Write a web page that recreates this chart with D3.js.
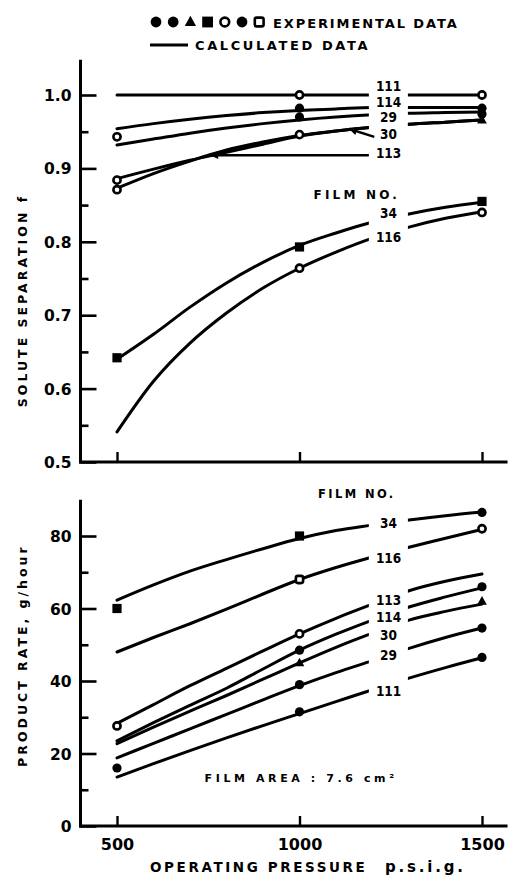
<!DOCTYPE html>
<html>
<head>
<meta charset="utf-8">
<script src="https://cdn.jsdelivr.net/npm/d3@7"></script>
<style>
  body { margin: 0; background: #fff; }
  text { font-family: "DejaVu Sans", sans-serif; font-weight: bold; fill: #000; }
</style>
</head>
<body>
<svg id="chart" width="511" height="880"></svg>
<script>
// ---- data ----------------------------------------------------------------
const pressures = [500, 600, 700, 800, 900, 1000, 1100, 1200, 1300, 1400, 1500];
const filmNos = ["111", "114", "29", "30", "113", "34", "116"];

// calculated solute separation f, one row per film (same order as filmNos)
const sepCalc = [
  [1.000, 1.000, 1.000, 1.000, 1.000, 1.000, 1.000, 1.000, 1.000, 1.000, 1.000],
  [0.954, 0.961, 0.967, 0.972, 0.976, 0.979, 0.981, 0.983, 0.983, 0.983, 0.983],
  [0.932, 0.940, 0.948, 0.955, 0.961, 0.966, 0.970, 0.973, 0.975, 0.976, 0.977],
  [0.873, 0.893, 0.910, 0.925, 0.936, 0.945, 0.951, 0.956, 0.960, 0.963, 0.966],
  [0.886, 0.899, 0.911, 0.922, 0.933, 0.944, 0.951, 0.956, 0.960, 0.963, 0.966],
  [0.640, 0.674, 0.711, 0.744, 0.772, 0.795, 0.812, 0.827, 0.838, 0.847, 0.854],
  [0.541, 0.610, 0.662, 0.703, 0.737, 0.764, 0.786, 0.805, 0.820, 0.832, 0.841]
];

// calculated product rate, g/hour
const rateCalc = [
  [13.5, 17.2, 20.8, 24.3, 27.7, 31.0, 34.3, 37.6, 40.8, 43.7, 46.4],
  [23.5, 28.5, 33.3, 38.0, 43.3, 48.5, 52.9, 56.8, 60.4, 63.2, 65.7],
  [18.8, 22.8, 26.8, 30.8, 34.8, 38.7, 42.3, 45.6, 49.0, 52.0, 54.6],
  [22.7, 27.3, 31.7, 36.0, 40.5, 45.0, 49.3, 53.2, 56.8, 59.2, 61.2],
  [28.3, 33.5, 38.7, 43.5, 48.3, 53.0, 57.3, 61.2, 64.9, 67.5, 69.5],
  [62.3, 66.5, 70.3, 73.5, 76.5, 79.3, 81.5, 83.0, 84.4, 85.6, 86.6],
  [48.0, 52.0, 55.8, 59.8, 64.0, 68.0, 71.3, 74.2, 76.9, 79.4, 81.8]
];

// experimental points: [film, pressure, value, symbol]
const sepExp = [
  ["111", 1000, 1.000, "oc"], ["111", 1500, 1.000, "oc"],
  ["114", 1000, 0.982, "fc"], ["114", 1500, 0.982, "fc"],
  ["29", 500, 0.943, "oc"], ["29", 1000, 0.970, "fc"], ["29", 1500, 0.974, "fc"],
  ["30", 500, 0.871, "oc"], ["30", 1500, 0.966, "tri"],
  ["113", 500, 0.884, "oc"], ["113", 1000, 0.946, "oc"],
  ["34", 500, 0.642, "fs"], ["34", 1000, 0.793, "fs"], ["34", 1500, 0.855, "fs"],
  ["116", 1000, 0.764, "oc"], ["116", 1500, 0.840, "oc"]
];
const rateExp = [
  ["34", 500, 60.0, "fs"], ["34", 1000, 80.0, "fs"], ["34", 1500, 86.5, "fc"],
  ["116", 1000, 68.0, "os"], ["116", 1500, 82.0, "oc"],
  ["113", 500, 27.6, "oc"], ["113", 1000, 53.0, "oc"],
  ["114", 1000, 48.5, "fc"], ["114", 1500, 66.0, "fc"],
  ["30", 1000, 45.0, "tri"], ["30", 1500, 62.0, "tri"],
  ["29", 500, 16.0, "fc"], ["29", 1000, 39.0, "fc"], ["29", 1500, 54.6, "fc"],
  ["111", 1000, 31.5, "fc"], ["111", 1500, 46.5, "fc"]
];

const legendSymbols = ["fc", "fc", "tri", "fs", "oc", "fc", "os"];
const pressureTicks = [500, 1000, 1500];
const sepTicks = [0.5, 0.6, 0.7, 0.8, 0.9, 1.0];
const sepMinorTicks = [0.55, 0.65, 0.75, 0.85, 0.95];
const rateTicks = [0, 20, 40, 60, 80];
const rateMinorTicks = [10, 30, 50, 70];

// ---- layout --------------------------------------------------------------
const svg = d3.select("#chart");
const x = d3.scaleLinear().domain([500, 1500]).range([117, 482]);
const xExtent = [400, 1570];
const ySep = d3.scaleLinear().domain([0.5, 1.0]).range([462, 95]);
const ySepTop = 1.048;
const yRate = d3.scaleLinear().domain([0, 80]).range([826, 536]);
const yRateTop = 90;
// break in the curves where the film numbers are written
const labelGap = [1190, 1297];

const defs = svg.append("defs");
const clip = defs.append("clipPath").attr("id", "gapclip");
clip.append("rect").attr("x", 0).attr("y", 0)
  .attr("width", x(labelGap[0])).attr("height", 880);
clip.append("rect").attr("x", x(labelGap[1])).attr("y", 0)
  .attr("width", 511 - x(labelGap[1])).attr("height", 880);

function symbol(g, type, cx, cy, r) {
  if (type === "fc") {
    g.append("circle").attr("cx", cx).attr("cy", cy).attr("r", r).attr("fill", "#000");
  } else if (type === "oc") {
    g.append("circle").attr("cx", cx).attr("cy", cy).attr("r", r - 1)
      .attr("fill", "#fff").attr("stroke", "#000").attr("stroke-width", 2.6);
  } else if (type === "fs") {
    g.append("rect").attr("x", cx - r).attr("y", cy - r).attr("width", 2 * r).attr("height", 2 * r)
      .attr("fill", "#000");
  } else if (type === "os") {
    g.append("rect").attr("x", cx - r + 1).attr("y", cy - r + 1)
      .attr("width", 2 * r - 2).attr("height", 2 * r - 2).attr("rx", 2)
      .attr("fill", "#fff").attr("stroke", "#000").attr("stroke-width", 2.6);
  } else if (type === "tri") {
    const h = r * 1.9;
    g.append("path")
      .attr("d", `M${cx},${cy - h * 0.6}L${cx + r * 1.05},${cy + h * 0.4}L${cx - r * 1.05},${cy + h * 0.4}Z`)
      .attr("fill", "#000");
  }
}

function panel(y, yTop, curves, points, ticks, minor, fmt, withXLabels) {
  const g = svg.append("g");
  const y0 = y.domain()[0];
  // axes frame
  g.append("line").attr("x1", x(xExtent[0])).attr("x2", x(xExtent[0]))
    .attr("y1", y(yTop)).attr("y2", y(y0) + 1.5)
    .attr("stroke", "#000").attr("stroke-width", 3);
  g.append("line").attr("x1", x(xExtent[0]) - 1.5).attr("x2", x(xExtent[1]))
    .attr("y1", y(y0)).attr("y2", y(y0))
    .attr("stroke", "#000").attr("stroke-width", 3);

  // y ticks point into the plot
  const ya = d3.axisLeft(y).tickValues(ticks).tickSize(-16).tickSizeOuter(0)
    .tickPadding(9).tickFormat(fmt);
  const ag = g.append("g").attr("transform", `translate(${x(xExtent[0])},0)`).call(ya);
  ag.select(".domain").remove();
  ag.selectAll(".tick line").attr("stroke", "#000").attr("stroke-width", 2.6);
  ag.selectAll(".tick text").style("font-size", "15.5px")
    .style("font-family", "'DejaVu Sans', sans-serif").style("font-weight", "bold")
    .attr("dy", "0.36em");
  const ma = d3.axisLeft(y).tickValues(minor).tickSize(-8).tickSizeOuter(0).tickFormat("");
  const mg = g.append("g").attr("transform", `translate(${x(xExtent[0])},0)`).call(ma);
  mg.select(".domain").remove();
  mg.selectAll(".tick line").attr("stroke", "#000").attr("stroke-width", 2.6);

  // x ticks point up
  const xa = d3.axisBottom(x).tickValues(pressureTicks).tickSize(-10).tickSizeOuter(0)
    .tickPadding(10).tickFormat(withXLabels ? d3.format("d") : "");
  const xg = g.append("g").attr("transform", `translate(0,${y(y0)})`).call(xa);
  xg.select(".domain").remove();
  xg.selectAll(".tick line").attr("stroke", "#000").attr("stroke-width", 2.4);
  xg.selectAll(".tick text").style("font-size", "16px")
    .style("font-family", "'DejaVu Sans', sans-serif").style("font-weight", "bold")
    .attr("dy", "0.9em");

  // calculated curves
  const line = d3.line().x((d, i) => x(pressures[i])).y(d => y(d)).curve(d3.curveMonotoneX);
  g.append("g").attr("clip-path", "url(#gapclip)")
    .selectAll("path").data(curves).join("path")
    .attr("d", line).attr("fill", "none").attr("stroke", "#000")
    .attr("stroke-width", 3).attr("stroke-linecap", "round");

  // experimental points
  const pg = g.append("g");
  points.forEach(p => symbol(pg, p[3], x(p[1]), y(p[2]), 4.6));
  return g;
}

panel(ySep, ySepTop, sepCalc, sepExp, sepTicks, sepMinorTicks, d3.format(".1f"), false);
panel(yRate, yRateTop, rateCalc, rateExp, rateTicks, rateMinorTicks, d3.format("d"), true);

// ---- film number labels --------------------------------------------------
const labelX = 1244;
function label(text, px, yv, yScale, size, anchor, spacing, family) {
  svg.append("text").attr("x", x(px)).attr("y", yScale(yv))
    .attr("dy", "0.36em").attr("text-anchor", anchor || "middle")
    .style("font-size", size + "px").style("letter-spacing", (spacing || 0) + "px")
    .style("font-family", family || "'DejaVu Sans', sans-serif")
    .text(text);
}
const numFont = "'DejaVu Sans Condensed', 'DejaVu Sans', sans-serif";
[["111", 1.012], ["114", 0.990], ["29", 0.970], ["30", 0.946], ["113", 0.921],
 ["34", 0.839], ["116", 0.807]].forEach(d => label(d[0], labelX, d[1], ySep, 13.5, "middle", 0, numFont));
label("FILM NO.", 1157, 0.864, ySep, 12, "middle", 3.2);

[["34", 83.6], ["116", 73.9], ["113", 62.2], ["114", 57.6], ["30", 52.7],
 ["29", 47.2], ["111", 37.2]].forEach(d => label(d[0], labelX, d[1], yRate, 13.5, "middle", 0, numFont));
label("FILM NO.", 1157, 91.6, yRate, 11.5, "middle", 2.4);
label("FILM AREA : 7.6 cm²", 740, 13.2, yRate, 11, "start", 3.6);

// leader arrows pointing to the curves for 30 and 113
function arrow(p0, v0, p1, v1) {
  const x0 = x(p0), y0 = ySep(v0), x1 = x(p1), y1 = ySep(v1);
  svg.append("line").attr("x1", x0).attr("y1", y0).attr("x2", x1).attr("y2", y1)
    .attr("stroke", "#000").attr("stroke-width", 2.4);
  const a = Math.atan2(y1 - y0, x1 - x0);
  const L = 9, w = 0.45;
  svg.append("path")
    .attr("d", `M${x1},${y1}L${x1 - L * Math.cos(a - w)},${y1 - L * Math.sin(a - w)}` +
               `L${x1 - L * Math.cos(a + w)},${y1 - L * Math.sin(a + w)}Z`)
    .attr("fill", "#000");
}
arrow(1190, 0.918, 755, 0.918);
arrow(1205, 0.943, 1135, 0.954);

// ---- axis titles ---------------------------------------------------------
svg.append("text").attr("transform", `translate(27,${ySep(0.72)}) rotate(-90)`)
  .attr("text-anchor", "middle").style("font-size", "12.5px").style("letter-spacing", "3px")
  .text("SOLUTE SEPARATION f");
svg.append("text").attr("transform", `translate(27,${yRate(47)}) rotate(-90)`)
  .attr("text-anchor", "middle").style("font-size", "12.5px").style("letter-spacing", "3px")
  .text("PRODUCT RATE, g/hour");
svg.append("text").attr("x", 150).attr("y", 872)
  .style("font-size", "13.5px").style("letter-spacing", "2.6px").text("OPERATING PRESSURE");
svg.append("text").attr("x", 385).attr("y", 872)
  .style("font-size", "15px").style("letter-spacing", "2.8px").text("p.s.i.g.");

// ---- legend --------------------------------------------------------------
const lg = svg.append("g");
legendSymbols.forEach((s, i) => symbol(lg, s, 156 + i * 17.2, 22, 5.4));
lg.append("text").attr("x", 273).attr("y", 27.5)
  .style("font-size", "13px").style("letter-spacing", "1.9px").text("EXPERIMENTAL DATA");
lg.append("line").attr("x1", 150).attr("x2", 188).attr("y1", 45).attr("y2", 45)
  .attr("stroke", "#000").attr("stroke-width", 3);
lg.append("text").attr("x", 195).attr("y", 50)
  .style("font-size", "13px").style("letter-spacing", "2.6px").text("CALCULATED DATA");
</script>
</body>
</html>
